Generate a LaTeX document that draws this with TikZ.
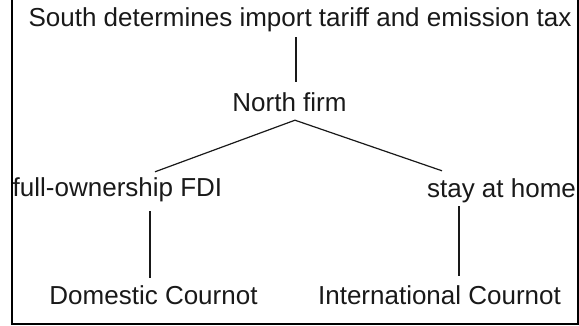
\documentclass[tikz,border=0pt]{standalone}
\usepackage{fontspec}
\setmainfont{Liberation Sans}
\begin{document}
\begin{tikzpicture}[x=1pt,y=-1pt,
  lbl/.style={inner sep=0pt, anchor=base, text height=19pt, text depth=5.5pt,
    font=\fontsize{26pt}{30pt}\selectfont, text=black!90},
  edge/.style={line width=1.2pt, black!90},
  frame/.style={line width=2pt, black}]
\useasboundingbox (0,0) rectangle (579,326);
\node[lbl] (top)   at (300,27)   {South determines import tariff and emission tax};
\node[lbl] (north) at (289.5,112) {North firm};
\node[lbl] (fdi)   at (117.5,197) {full-ownership FDI};
\node[lbl] (home)  at (501.5,198) {stay at home};
\node[lbl] (dom)   at (153.5,305) {Domestic Cournot};
\node[lbl] (intl)  at (439.5,305) {International Cournot};
\draw[edge] ([shift={(-4,4.5)}]top.south) -- ([shift={(6.5,-11)}]north.north);
\draw[edge] ([shift={(5.5,2.5)}]north.south) -- ([shift={(37.5,-6)}]fdi.north);
\draw[edge] ([shift={(5.5,2.5)}]north.south) -- ([shift={(-59.5,-8)}]home.north);
\draw[edge] ([shift={(32.5,8.5)}]fdi.south) -- ([shift={(-3.5,-8)}]dom.north);
\draw[edge] ([shift={(-42.5,2.5)}]home.south) -- ([shift={(19.5,-10)}]intl.north);
\draw[frame] (12,0) -- (12,323.5) -- (578,323.5) -- (578,0);
\end{tikzpicture}
\end{document}
